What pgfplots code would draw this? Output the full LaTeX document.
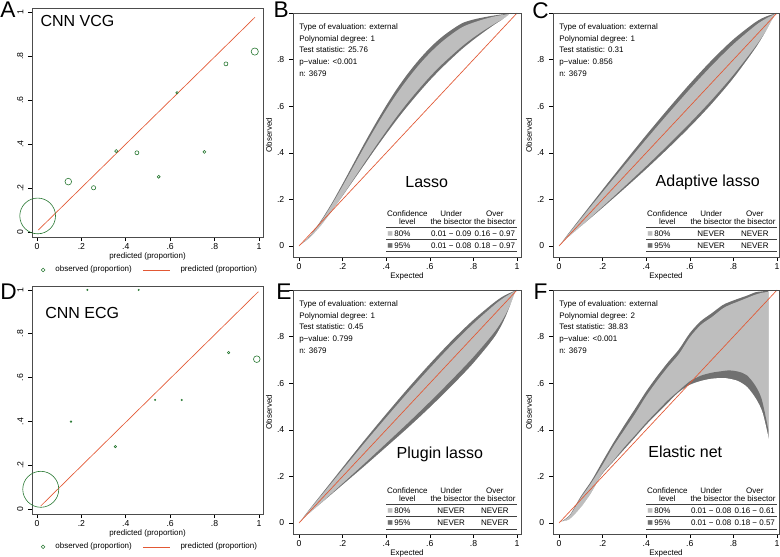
\documentclass[border=0pt]{standalone}
\usepackage{pgfplots}
\pgfplotsset{compat=1.18}
\usepackage{pgfplotstable}
\usepackage{fontspec}
\setmainfont{Liberation Sans}
\newfontfamily\dejavu{DejaVu Sans}

\definecolor{ogreen}{RGB}{40,120,50}
\definecolor{ored}{RGB}{226,88,52}
\definecolor{blight}{RGB}{190,190,190}
\definecolor{bdark}{RGB}{112,112,112}

\newcommand\sm{\fontsize{6}{7.2}\selectfont}
\newcommand\tb{\fontsize{6}{6.3}\selectfont}
\newcommand\st{\fontsize{6}{8.74}\selectfont}
\newcommand\bigf{\fontsize{12}{14}\selectfont}
\newcommand\letf{\fontsize{17}{17}\selectfont}
\newcommand\sq[1]{{\dejavu\fontsize{4.5}{5}\selectfont\textcolor{#1}{■}}}

% observed proportions, marker size in pt
\pgfplotstableread{
x     y     s
0.003 0.073 13.4
0.141 0.229 2.5
0.255 0.201 1.6
0.357 0.368 1.2
0.450 0.360 1.5
0.548 0.251 1.1
0.631 0.633 0.9
0.754 0.364 1.1
0.851 0.764 1.5
0.981 0.820 2.7
}\obsA
\pgfplotstableread{
x     y     s
0.017 0.090 13.5
0.153 0.399 0.6
0.227 1.000 0.5
0.353 0.285 0.9
0.458 1.000 0.5
0.532 0.498 0.5
0.652 0.498 0.5
0.863 0.714 0.9
0.990 0.684 2.5
}\obsD

% calibration belts
\pgfplotstableread{
x    lo95  lo80  hi80  hi95
0.01 .0021 .0027 .0055 .0061
0.05 .0294 .0314 .0414 .0434
0.10 .0798 .0840 .1036 .1078
0.15 .141  .147  .177  .183
0.20 .207  .216  .258  .267
0.25 .274  .286  .342  .354
0.30 .341  .356  .426  .441
0.35 .408  .425  .507  .524
0.40 .473  .492  .584  .603
0.45 .536  .557  .655  .676
0.50 .595  .617  .719  .741
0.55 .651  .673  .777  .799
0.60 .704  .726  .828  .850
0.65 .753  .774  .872  .893
0.70 .798  .817  .909  .928
0.75 .841  .858  .940  .957
0.80 .879  .894  .959  .972
0.85 .914  .926  .974  .982
0.90 .947  .955  .986  .990
0.93 .965  .971  .991  .994
0.96 .985  .987  .996  .997
}\beltB
\pgfplotstableread{
x    lo95 lo80  hi80  hi95
0    0    0     0     0
0.05 .038 .0409 .0591 .062
0.10 .078 .0833 .1167 .122
0.20 .158 .1681 .2319 .242
0.30 .240 .2544 .3456 .360
0.40 .324 .3422 .4578 .476
0.50 .412 .4331 .5669 .588
0.60 .504 .527  .673  .696
0.70 .603 .6263 .7737 .797
0.80 .713 .7339 .8661 .887
0.90 .840 .8544 .9456 .960
0.95 .915 .9234 .9766 .985
1    1    1     1     1
}\beltC
\pgfplotstableread{
x    lo95 lo80  hi80  hi95
0    0    0     0     0
0.05 .038 .0412 .0586 .061
0.10 .078 .0839 .1156 .120
0.20 .158 .1693 .2296 .238
0.30 .238 .2547 .3429 .355
0.40 .320 .3416 .453  .468
0.50 .403 .4292 .5608 .578
0.60 .490 .5197 .6647 .683
0.70 .582 .6139 .764  .782
0.80 .680 .7124 .8562 .872
0.90 .795 .8233 .939  .950
0.95 .880 .8989 .9734 .980
1    1    1     1     1
}\beltE
\pgfplotstableread{
x    lo95 lo80 hi80 hi95
0.01 .002 .003 .005 .006
0.05 .012 .016 .032 .035
0.10 .060 .066 .108 .114
0.15 .125 .133 .175 .183
0.20 .205 .215 .250 .265
0.25 .258 .268 .330 .345
0.30 .310 .325 .400 .420
0.35 .362 .377 .470 .492
0.40 .415 .430 .545 .565
0.45 .463 .479 .610 .630
0.50 .510 .527 .670 .690
0.55 .556 .568 .725 .745
0.60 .588 .608 .797 .815
0.65 .605 .632 .850 .866
0.70 .615 .645 .883 .900
0.75 .618 .652 .920 .935
0.78 .615 .655 .935 .948
0.82 .605 .650 .950 .962
0.86 .580 .635 .965 .975
0.90 .530 .590 .980 .990
0.93 .470 .530 .988 .994
0.96 .350 .400 .992 .997
}\beltF

\pgfplotsset{
  shortline/.style={legend image code/.code={%
      \draw[opacity=0] (0pt,0pt) -- (26pt,0pt);
      \draw[##1] (0pt,0pt) -- (20pt,0pt);}},
  markleg/.style={legend image code/.code={%
      \draw[opacity=0] (0pt,0pt) -- (14pt,0pt);
      \draw[mark repeat=2,mark phase=2,##1]
      plot coordinates {(0pt,0pt) (7pt,0pt) (14pt,0pt)};}},
  panel/.style={
    scale only axis, anchor=south west, axis on top,
    axis line style={black!70, line width=0.45pt},
    tick style={black, line width=0.45pt},
    tick align=outside, tick pos=left, major tick length=3pt,
    xtick={0,0.2,0.4,0.6,0.8,1}, ytick={0,0.2,0.4,0.6,0.8,1},
    xticklabels={0,.2,.4,.6,.8,1}, yticklabels={0,.2,.4,.6,.8,1},
    ticklabel style={font=\fontsize{6.5}{7}\selectfont},
    xticklabel shift=-2pt,
    label style={font=\sm},
    clip=false,
  },
  calib/.style={panel, width=173.25pt,
    xmin=-0.0225, xmax=1.018,
    xlabel={predicted (proportion)},
    xlabel style={yshift=4pt},
    yticklabel style={rotate=90, anchor=south},
    legend columns=2,
    legend style={at={(0.496,-0.144)}, anchor=center, draw=none, fill=none,
      font=\sm, /tikz/every even column/.append style={column sep=6pt}},
  },
  belt/.style={panel, width=171pt, height=183pt,
    xmin=-0.0275, xmax=1.018, ymin=-0.0472, ymax=1.0,
    yticklabels={0,.2,.4,.6,.8,{}},
    xlabel={Expected}, ylabel={Observed},
    xlabel style={yshift=4.5pt}, ylabel style={yshift=-3pt},
  },
}

\newcommand\btable[4]{%
  \node[font=\tb, align=center] at (axis cs:0.497,0.122) {Confidence\\level};
  \node[font=\tb, align=center] at (axis cs:0.698,0.122) {Under\\the bisector};
  \node[font=\tb, align=center] at (axis cs:0.898,0.122) {Over\\the bisector};
  \draw[black!75, line width=0.5pt] (axis cs:0.4,0.079) -- (axis cs:1,0.079);
  \node[font=\tb] at (axis cs:0.418,0.052) {\sq{blight}};
  \node[font=\tb] at (axis cs:0.474,0.052) {80\%};
  \node[font=\tb] at (axis cs:0.698,0.052) {#1};
  \node[font=\tb] at (axis cs:0.898,0.052) {#2};
  \draw[black!75, line width=0.5pt] (axis cs:0.4,0.027) -- (axis cs:1,0.027);
  \node[font=\tb] at (axis cs:0.418,0.0) {\sq{bdark}};
  \node[font=\tb] at (axis cs:0.474,0.0) {95\%};
  \node[font=\tb] at (axis cs:0.698,0.0) {#3};
  \node[font=\tb] at (axis cs:0.898,0.0) {#4};
  \draw[black!75, line width=0.5pt] (axis cs:0.4,-0.025) -- (axis cs:1,-0.025);
}
\newcommand\stats[3]{%
  \node[anchor=north west, align=left, font=\st, inner sep=0pt]
    at (axis cs:0,0.955) {Type of evaluation: external\\Polynomial degree: #1\\Test statistic: #2\\p−value: #3\\n: 3679};
}
% belt layers: dark under hi95, light under hi80, dark under lo80, white under lo95
\newcommand\belts[1]{%
  \addplot[fill=bdark, draw=none, smooth] table[x=x,y=hi95]{#1} \closedcycle;
  \addplot[fill=blight, draw=none, smooth] table[x=x,y=hi80]{#1} \closedcycle;
  \addplot[fill=bdark, draw=none, smooth] table[x=x,y=lo80]{#1} \closedcycle;
  \addplot[fill=white, draw=white, line width=1.5pt, smooth] table[x=x,y=lo95]{#1} \closedcycle;
  \addplot[ored, line width=0.5pt] coordinates {(0,0) (1,1)};
}

\begin{document}
\begin{tikzpicture}
\useasboundingbox (0,0) rectangle (585pt,-417pt);

% A
\begin{axis}[calib, at={(24pt,-177.75pt)}, height=171.75pt, ymin=-0.0227, ymax=1.018]
  \addlegendimage{only marks, mark=o, ogreen, mark size=1.4pt, markleg}
  \addlegendentry{observed (proportion)}
  \addplot[scatter, only marks, mark=o, point meta=explicit, forget plot,
    scatter/use mapped color={draw=ogreen},
    mark options={line width=0.45pt},
    visualization depends on={\thisrow{s}\as\msz},
    scatter/@pre marker code/.append style={/tikz/mark size=\msz}]
    table[x=x, y=y, meta=s]{\obsA};
  \addplot[ored, line width=0.5pt, shortline]
    coordinates {(0.006,0.009) (0.982,0.976)};
  \addlegendentry{predicted (proportion)}
  \node[anchor=north west, font=\bigf, inner sep=0pt] at (axis cs:0.015,0.985) {CNN VCG};
\end{axis}

% D
\begin{axis}[calib, at={(24pt,-385.5pt)}, height=171pt, ymin=-0.0228, ymax=1.018]
  \addlegendimage{only marks, mark=o, ogreen, mark size=1.4pt, markleg}
  \addlegendentry{observed (proportion)}
  \addplot[scatter, only marks, mark=o, point meta=explicit, forget plot,
    scatter/use mapped color={draw=ogreen},
    mark options={line width=0.45pt},
    visualization depends on={\thisrow{s}\as\msz},
    scatter/@pre marker code/.append style={/tikz/mark size=\msz}]
    table[x=x, y=y, meta=s]{\obsD};
  \addplot[ored, line width=0.5pt, shortline]
    coordinates {(0.017,0.014) (0.997,0.992)};
  \addlegendentry{predicted (proportion)}
  \node[anchor=north west, font=\bigf, inner sep=0pt] at (axis cs:0.036,0.92) {CNN ECG};
\end{axis}

% B
\begin{axis}[belt, at={(219.75pt,-192.75pt)}]
  \belts{\beltB}
  \stats{1}{25.76}{<0.001}
  \node[font=\bigf] at (axis cs:0.586,0.273) {Lasso};
  \btable{0.01 − 0.09}{0.16 − 0.97}{0.01 − 0.08}{0.18 − 0.97}
\end{axis}

% C
\begin{axis}[belt, at={(414.75pt,-192.75pt)}, width=169.5pt, xmax=1.009]
  \belts{\beltC}
  \stats{1}{0.31}{0.856}
  \node[font=\bigf] at (axis cs:0.682,0.274) {Adaptive lasso};
  \btable{NEVER}{NEVER}{NEVER}{NEVER}
\end{axis}

% E
\begin{axis}[belt, at={(219.75pt,-400.5pt)}]
  \belts{\beltE}
  \stats{1}{0.45}{0.799}
  \node[font=\bigf] at (axis cs:0.646,0.296) {Plugin lasso};
  \btable{NEVER}{NEVER}{NEVER}{NEVER}
\end{axis}

% F
\begin{axis}[belt, at={(414.75pt,-400.5pt)}, width=169.5pt, xmax=1.009]
  \belts{\beltF}
  \stats{2}{38.83}{<0.001}
  \node[font=\bigf] at (axis cs:0.579,0.304) {Elastic net};
  \btable{0.01 − 0.08}{0.16 − 0.61}{0.01 − 0.08}{0.18 − 0.57}
\end{axis}

% panel letters
\node[anchor=north west, inner sep=0pt, font=\letf] at (0pt,-1.5pt) {A};
\node[anchor=north west, inner sep=0pt, font=\letf] at (205pt,-1.5pt) {B};
\node[anchor=north west, inner sep=0pt, font=\letf] at (399pt,-1.5pt) {C};
\node[anchor=north west, inner sep=0pt, font=\letf] at (0pt,-212.5pt) {D};
\node[anchor=north west, inner sep=0pt, font=\letf] at (207pt,-213pt) {E};
\node[anchor=north west, inner sep=0pt, font=\letf] at (400pt,-212.5pt) {F};
\end{tikzpicture}
\end{document}
